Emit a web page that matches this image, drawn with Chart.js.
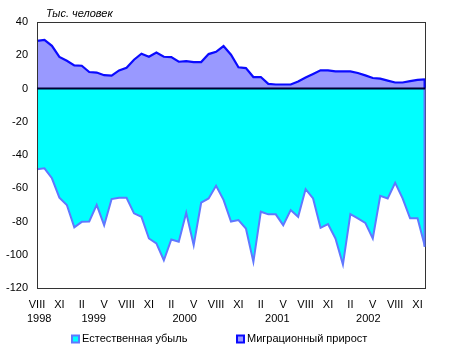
<!DOCTYPE html>
<html><head><meta charset="utf-8">
<script src="https://cdn.jsdelivr.net/npm/chart.js@4/dist/chart.umd.min.js"></script>
<style>html,body{margin:0;padding:0;background:#fff}#wrap{width:449px;height:356px}</style>
</head><body><div id="wrap"><canvas id="c" width="449" height="356"></canvas></div>
<script>
const months = ['VIII','IX','X','XI','XII',
 'I','II','III','IV','V','VI','VII','VIII','IX','X','XI','XII',
 'I','II','III','IV','V','VI','VII','VIII','IX','X','XI','XII',
 'I','II','III','IV','V','VI','VII','VIII','IX','X','XI','XII',
 'I','II','III','IV','V','VI','VII','VIII','IX','X','XI','XII'];
const years = ['1998','1999','2000','2001','2002'];
const yearAt = [0.3, 7.6, 19.8, 32.2, 44.4];
const naturalDecrease = [-48.6,-48,-54,-65.7,-70.1,-83.5,-80.2,-80,-70,-82.2,-66.5,-65.7,-65.7,-75.1,-77.2,-90.2,-93.2,-103.3,-90.8,-92.2,-74.7,-94.2,-68.7,-66.1,-58.5,-67,-80,-79.1,-84.2,-104.3,-74.1,-75.7,-75.7,-82.2,-73.1,-77.2,-60.5,-66.1,-83.8,-81.6,-90.2,-105.9,-75.5,-78.1,-80.8,-90.2,-64.5,-66.1,-56.7,-66.1,-78.1,-78.1,-95.2];
const migrationGrowth = [28.7,29.2,25.7,19,16.7,13.9,13.7,9.9,9.6,8,7.7,10.9,12.5,17.3,20.9,19.1,21.7,19.1,18.9,16.1,16.5,15.9,15.9,20.7,22.1,25.5,20.3,12.8,12.3,6.9,6.9,2.8,2.4,2.4,2.4,4.2,6.6,8.7,10.9,10.9,10.3,10.3,10.3,9.3,7.9,6.3,5.9,4.7,3.6,3.6,4.4,5.2,5.5];
const seriesNames = ['Естественная убыль','Миграционный прирост'];
const yTicks = {min:-120, max:40, step:20};
const unitTitle = 'Тыс. человек';

const FONT = '"Liberation Sans", Arial, sans-serif';

const deco = {
  id:'deco',
  afterDatasetsDraw(chart){
    const {ctx, chartArea:a, scales:{x,y}} = chart;
    ctx.save();
    // frame
    ctx.strokeStyle = '#333'; ctx.lineWidth = 1;
    ctx.strokeRect(Math.round(a.left)+0.5, Math.round(a.top)+0.5, Math.round(a.right-a.left), Math.round(a.bottom-a.top));
    // right edges of the areas
    const y0 = y.getPixelForValue(0);
    const last = months.length - 1;
    const xr = x.getPixelForValue(last);
    chart.data.datasets.forEach(ds => {
      ctx.strokeStyle = ds.borderColor; ctx.lineWidth = 2;
      ctx.beginPath(); ctx.moveTo(xr - 0.5, y0); ctx.lineTo(xr - 0.5, y.getPixelForValue(ds.data[last])); ctx.stroke();
    });
    // zero line
    ctx.strokeStyle = '#000033'; ctx.lineWidth = 2;
    ctx.beginPath(); ctx.moveTo(a.left, y0); ctx.lineTo(a.right, y0); ctx.stroke();
    ctx.restore();
  },
  afterDraw(chart){
    const {ctx, chartArea:a, scales:{x}} = chart;
    ctx.save();
    ctx.fillStyle = '#000';
    // unit title
    ctx.font = 'italic 11px ' + FONT;
    ctx.textAlign = 'left'; ctx.textBaseline = 'alphabetic';
    ctx.fillText(unitTitle, a.left + 9, a.top - 5);
    // years
    ctx.font = '11px ' + FONT;
    ctx.textAlign = 'center'; ctx.textBaseline = 'middle';
    years.forEach((yr, i) => ctx.fillText(yr, x.getPixelForValue(yearAt[i]), a.bottom + 31));
    // legend
    const ly = a.bottom + 51;
    const items = [[72, 0], [237, 1]];
    ctx.textAlign = 'left';
    items.forEach(([lx, di]) => {
      const ds = chart.data.datasets[di];
      ctx.fillStyle = ds.backgroundColor;
      ctx.fillRect(lx, ly - 3.5, 7, 7);
      ctx.strokeStyle = ds.borderColor; ctx.lineWidth = 2;
      ctx.strokeRect(lx, ly - 3.5, 7, 7);
      ctx.fillStyle = '#000';
      ctx.fillText(ds.label, lx + 10, ly);
    });
    ctx.restore();
  }
};

new Chart(document.getElementById('c'), {
  type:'line',
  data:{
    labels: months,
    datasets:[
      {label:seriesNames[0], data:naturalDecrease, fill:'origin', backgroundColor:'#00FFFF', borderColor:'#6078FF', borderWidth:2, pointRadius:0, tension:0},
      {label:seriesNames[1], data:migrationGrowth, fill:'origin', backgroundColor:'#9999FF', borderColor:'#0A0AFF', borderWidth:2.2, pointRadius:0, tension:0}
    ]
  },
  options:{
    responsive:false, animation:false,
    layout:{padding:{top:22, right:24, left:0, bottom:0}},
    plugins:{legend:{display:false}, tooltip:{enabled:false}},
    scales:{
      x:{
        offset:false,
        grid:{display:false, drawTicks:false},
        border:{display:false},
        ticks:{autoSkip:false, maxRotation:0, minRotation:0, padding:10, color:'#000', font:{family:FONT, size:11},
          callback:(v,i)=> i%3===0 ? months[i] : ''},
        afterFit:(s)=>{ s.height = 68; }
      },
      y:{
        min:yTicks.min, max:yTicks.max,
        grid:{display:false, drawTicks:false},
        border:{display:false},
        ticks:{stepSize:yTicks.step, padding:9, color:'#000', font:{family:FONT, size:11}},
        afterFit:(s)=>{ s.width = 37; }
      }
    }
  },
  plugins:[deco]
});
</script></body></html>
